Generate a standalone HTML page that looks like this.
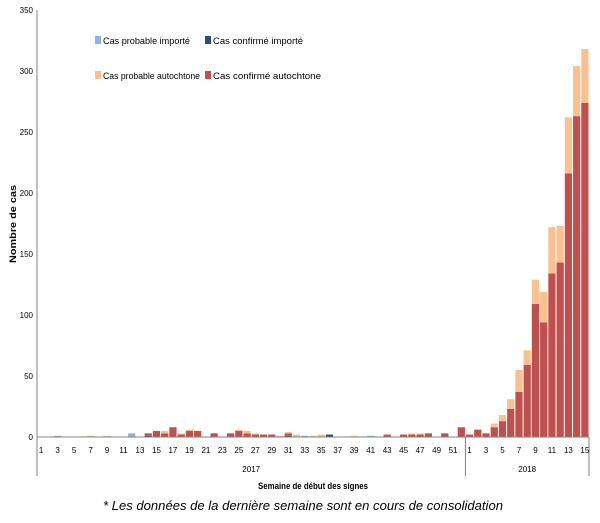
<!DOCTYPE html>
<html><head><meta charset="utf-8"><style>
html,body{margin:0;padding:0;background:#fff;}
svg{display:block;font-family:"Liberation Sans Narrow","Liberation Sans",sans-serif;}
</style></head><body>
<svg id="chart" width="600" height="523" viewBox="0 0 600 523" xmlns="http://www.w3.org/2000/svg">
<g id="yaxis"></g>
<g id="bars"></g>
<g id="xaxis"></g>
<text transform="translate(16,224) rotate(-90)" text-anchor="middle" font-size="9" font-weight="bold" fill="#000" textLength="78" lengthAdjust="spacingAndGlyphs">Nombre de cas</text>
<text x="258" y="489" font-size="9.5" font-weight="bold" fill="#000" textLength="110" lengthAdjust="spacingAndGlyphs">Semaine de début des signes</text>
<text x="103" y="510" font-size="12.5" font-style="italic" fill="#000" font-family="Liberation Sans, sans-serif" textLength="400" lengthAdjust="spacingAndGlyphs">* Les données de la dernière semaine sont en cours de consolidation</text>
<g font-size="9" fill="#000">
<g><rect x="95" y="36" width="6" height="8" fill="#8db3e2"/><text x="103" y="44" textLength="87" lengthAdjust="spacingAndGlyphs">Cas probable importé</text></g>
<g><rect x="205" y="36" width="6" height="8" fill="#2e4a7a"/><text x="213" y="44" textLength="90" lengthAdjust="spacingAndGlyphs">Cas confirmé importé</text></g>
<g><rect x="95" y="71" width="6" height="8" fill="#fac090"/><text x="103" y="79" textLength="97" lengthAdjust="spacingAndGlyphs">Cas probable autochtone</text></g>
<g><rect x="205" y="71" width="6" height="8" fill="#c0504d"/><text x="213" y="79" textLength="108" lengthAdjust="spacingAndGlyphs">Cas confirmé autochtone</text></g>
</g>
</svg>
<script>
const weeks2017 = Array.from({length:52},(_,i)=>i+1);
const weeks2018 = Array.from({length:15},(_,i)=>i+1);
const yTicks = [0,50,100,150,200,250,300,350];
// 2017 weeks 1..52 then 2018 weeks 1..15
const confAuto = [0,0,0,0,0,0,0,0,0,0,0,0,0,2,5,3,8,2,5,5,0,3,0,3,5,3,2,2,2,0,2,0,0,0,0,0,0,0,0,0,0,0,2,0,2,2,2,3,0,3,0,8,
  2,6,3,8,13,23,37,59,109,94,134,143,216,263,274];
const probAuto = [0,0,0,0,0,0,1,0,1,0,0,0,0,0,0,2,0,1,1,0,0,0,0,0,1,2,1,0,0,1,1,2,0,1,2,0,0,0,1,0,0,0,0,0,0,1,1,0,0,0,0,0,
  0,0,0,3,5,8,18,12,20,25,38,30,46,41,44];
const confImp = [0,0,0,0,0,0,0,0,0,0,0,0,0,1,0,0,0,0,0,0,0,0,0,0,0,0,0,0,0,0,1,0,0,0,0,2,0,0,0,0,0,0,0,0,0,0,0,0,0,0,0,0,
  0,0,0,0,0,0,0,0,0,0,0,0,0,0,0];
const probImp = [0,0,1,0,0,0,0,0,0,0,0,3,0,0,0,0,0,0,0,0,0,0,0,0,0,0,0,0,0,0,0,0,1,0,0,0,0,0,0,0,1,0,0,0,0,0,0,0,0,0,0,0,
  0,0,0,0,0,0,0,0,0,0,0,0,0,0,0];

const NS="http://www.w3.org/2000/svg";
const X0=37,X1=589,Y0=437,Y1=10,YMAX=350;
const n=weeks2017.length+weeks2018.length;
const step=(X1-X0)/n;
const y=v=>Y0-(v/YMAX)*(Y0-Y1);
const xL=i=>X0+i*step;
function mk(tag,attrs,parent){const e=document.createElementNS(NS,tag);for(const k in attrs)e.setAttribute(k,attrs[k]);parent.appendChild(e);return e;}

const ya=document.getElementById('yaxis');
let l=mk('line',{x1:X0,y1:Y1,x2:X0,y2:Y0,stroke:'#808080','stroke-width':1},ya);


yTicks.forEach(t=>{
  const tx=mk('text',{x:X0-4,y:y(t)+3,'text-anchor':'end','font-size':8,fill:'#000'},ya);
  
  
  tx.textContent=t;
});

const bg=document.getElementById('bars');
const series=[[confImp,'#2e4a7a','confirme-importe'],[confAuto,'#c0504d','confirme-autochtone'],[probImp,'#8db3e2','probable-importe'],[probAuto,'#fac090','probable-autochtone']];
for(let i=0;i<n;i++){
  let base=0;
  series.forEach(([arr,col,nm])=>{
    const v=arr[i];
    if(v>0){
      const r=mk('rect',{x:xL(i)+0.5,y:y(base+v),width:step-1,height:y(base)-y(base+v),fill:col},bg);
      
      
    }
    base+=v;
  });
}

const xa=document.getElementById('xaxis');
l=mk('line',{x1:X0,y1:Y0,x2:X1,y2:Y0,stroke:'#808080','stroke-width':1},xa);


[0,weeks2017.length,n].forEach(i=>{
  const s=mk('line',{x1:xL(i),y1:Y0,x2:xL(i),y2:476,stroke:'#808080','stroke-width':1},xa);
  
  
});
const labels=weeks2017.concat(weeks2018);
labels.forEach((w,i)=>{
  if(w%2===1){
    const t=mk('text',{x:xL(i)+step/2,y:453,'text-anchor':'middle','font-size':8,fill:'#000'},xa);
    
    
    t.textContent=w;
  }
});
[['2017',0,weeks2017.length],['2018',weeks2017.length,n]].forEach(([yr,a,b])=>{
  const t=mk('text',{x:(xL(a)+xL(b))/2,y:472,'text-anchor':'middle','font-size':8,fill:'#000'},xa);
  
  
  t.textContent=yr;
});
</script>
</body></html>
